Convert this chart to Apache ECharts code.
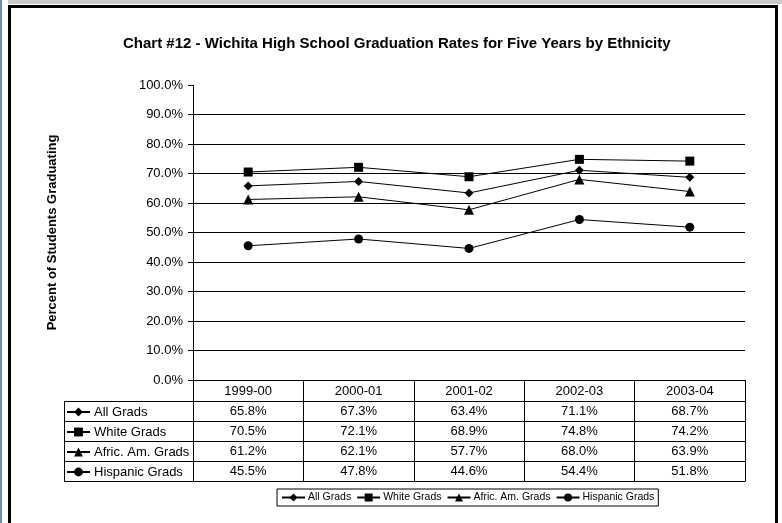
<!DOCTYPE html>
<html><head><meta charset="utf-8">
<script src="https://cdn.jsdelivr.net/npm/echarts@6/dist/echarts.min.js"></script>
<style>html,body{margin:0;padding:0;background:#fff}#c{width:782px;height:523px}</style>
</head><body><div id="c"></div><script>
// ---- data ----
const categories = ['1999-00', '2000-01', '2001-02', '2002-03', '2003-04'];
const seriesNames = ['All Grads', 'White Grads', 'Afric. Am. Grads', 'Hispanic Grads'];
const allGrads = [65.8, 67.3, 63.4, 71.1, 68.7];
const whiteGrads = [70.5, 72.1, 68.9, 74.8, 74.2];
const africAmGrads = [61.2, 62.1, 57.7, 68.0, 63.9];
const hispanicGrads = [45.5, 47.8, 44.6, 54.4, 51.8];
const yMin = 0, yMax = 100, yStep = 10;

// ---- layout / style ----
const FONT = 'Liberation Sans, Arial, sans-serif';
const W = 782, H = 523;
const G = { left: 193, right: 37, top: 85, bottom: 143 };
const axisY = H - G.bottom;
const headerH = 21, rowH = 20;
const tableLeft = 64;
const symbols = ['diamond', 'rect', 'triangle', 'circle'];
const symbolSizes = [9, 9, 10, 9];
const rows = [allGrads, whiteGrads, africAmGrads, hispanicGrads];
const TFS = 13;

const xAxes = [{
  type: 'category', data: categories, position: 'bottom', boundaryGap: true,
  axisLine: { show: true, lineStyle: { color: '#000', width: 1 } },
  axisTick: { show: true, length: headerH, interval: 0, lineStyle: { color: '#000', width: 1 } },
  axisLabel: { show: true, interval: 0, color: '#000', fontSize: TFS, fontFamily: FONT, margin: 5 },
  splitLine: { show: false }
}];
rows.forEach((vals, i) => {
  xAxes.push({
    type: 'category', data: categories, position: 'bottom', offset: headerH + i * rowH, boundaryGap: true,
    axisLine: { show: true, lineStyle: { color: '#000', width: 1 } },
    axisTick: { show: true, length: rowH, interval: 0, lineStyle: { color: '#000', width: 1 } },
    axisLabel: { show: true, interval: 0, color: '#000', fontSize: TFS, fontFamily: FONT, margin: 4,
      formatter: (v, idx) => vals[idx].toFixed(1) + '%' },
    splitLine: { show: false }
  });
});
xAxes.push({
  type: 'category', data: categories, position: 'bottom', offset: headerH + rows.length * rowH, boundaryGap: true,
  axisLine: { show: true, lineStyle: { color: '#000', width: 1 } },
  axisTick: { show: false }, axisLabel: { show: false }, splitLine: { show: false }
});

const series = seriesNames.map((name, i) => ({
  name, type: 'line', xAxisIndex: 0, yAxisIndex: 0, data: rows[i],
  symbol: symbols[i], symbolSize: symbolSizes[i], showAllSymbol: true,
  lineStyle: { color: '#000', width: 1 }, itemStyle: { color: '#000' },
  emphasis: { disabled: true }, animation: false
}));

// left column of data table (lines)
const tableGraphics = [];
const tableTop = axisY + headerH;
const tableBottom = axisY + headerH + rows.length * rowH;
for (let i = 0; i <= rows.length; i++) {
  const y = tableTop + i * rowH + 0.5;
  tableGraphics.push({ type: 'line', shape: { x1: tableLeft, y1: y, x2: G.left, y2: y }, style: { stroke: '#000', lineWidth: 1 } });
}
tableGraphics.push({ type: 'line', shape: { x1: tableLeft + 0.5, y1: tableTop, x2: tableLeft + 0.5, y2: tableBottom + 1 }, style: { stroke: '#000', lineWidth: 1 } });

const frame = [
  { type: 'rect', shape: { x: 0, y: 0, width: 2, height: H }, style: { fill: '#6b8fb0' } },
  { type: 'rect', shape: { x: 8, y: 0, width: W - 8, height: 4 }, style: { fill: '#c8c8c8' } },
  { type: 'rect', shape: { x: 9.5, y: 6.5, width: 767, height: H + 20 }, style: { fill: 'none', stroke: '#000', lineWidth: 3 } }
];

const chart = echarts.init(document.getElementById('c'), null, { renderer: 'canvas', width: W, height: H });
chart.setOption({
  animation: false,
  backgroundColor: '#fff',
  title: {
    text: 'Chart #12 - Wichita High School Graduation Rates for Five Years by Ethnicity',
    left: 123, top: 36, padding: 0,
    textStyle: { fontFamily: FONT, fontSize: 15, fontWeight: 'bold', color: '#000' }
  },
  grid: { left: G.left, right: G.right, top: G.top, bottom: G.bottom, containLabel: false },
  xAxis: xAxes,
  yAxis: {
    type: 'value', min: yMin, max: yMax, interval: yStep,
    name: 'Percent of Students Graduating', nameLocation: 'middle', nameGap: 134, nameRotate: 90,
    nameTextStyle: { fontFamily: FONT, fontSize: 13, fontWeight: 'bold', color: '#000' },
    axisLine: { show: true, lineStyle: { color: '#000', width: 1 } },
    axisTick: { show: true, length: 5, lineStyle: { color: '#000', width: 1 } },
    axisLabel: { color: '#000', fontSize: 13, fontFamily: FONT, margin: 10, formatter: v => v.toFixed(1) + '%' },
    splitLine: { show: true, showMaxLine: false, lineStyle: { color: '#000', width: 1 } }
  },
  legend: [{
    data: seriesNames, orient: 'horizontal', left: 277, top: 489, selectedMode: false,
    itemWidth: 23, itemHeight: 10, itemGap: 5, padding: [3, 4, 3, 4],
    borderColor: '#000', borderWidth: 1,
    textStyle: { fontFamily: FONT, fontSize: 10.5, color: '#000', padding: [0, 0, 0, -2] }
  }, {
    data: seriesNames, orient: 'vertical', left: 66, top: tableTop + 1, selectedMode: false,
    itemWidth: 23, itemHeight: 11, itemGap: 0, padding: 0,
    textStyle: { fontFamily: FONT, fontSize: TFS, color: '#000', lineHeight: rowH, padding: [0, 0, 0, -1] }
  }],
  graphic: frame.concat(tableGraphics),
  series
});
</script></body></html>
